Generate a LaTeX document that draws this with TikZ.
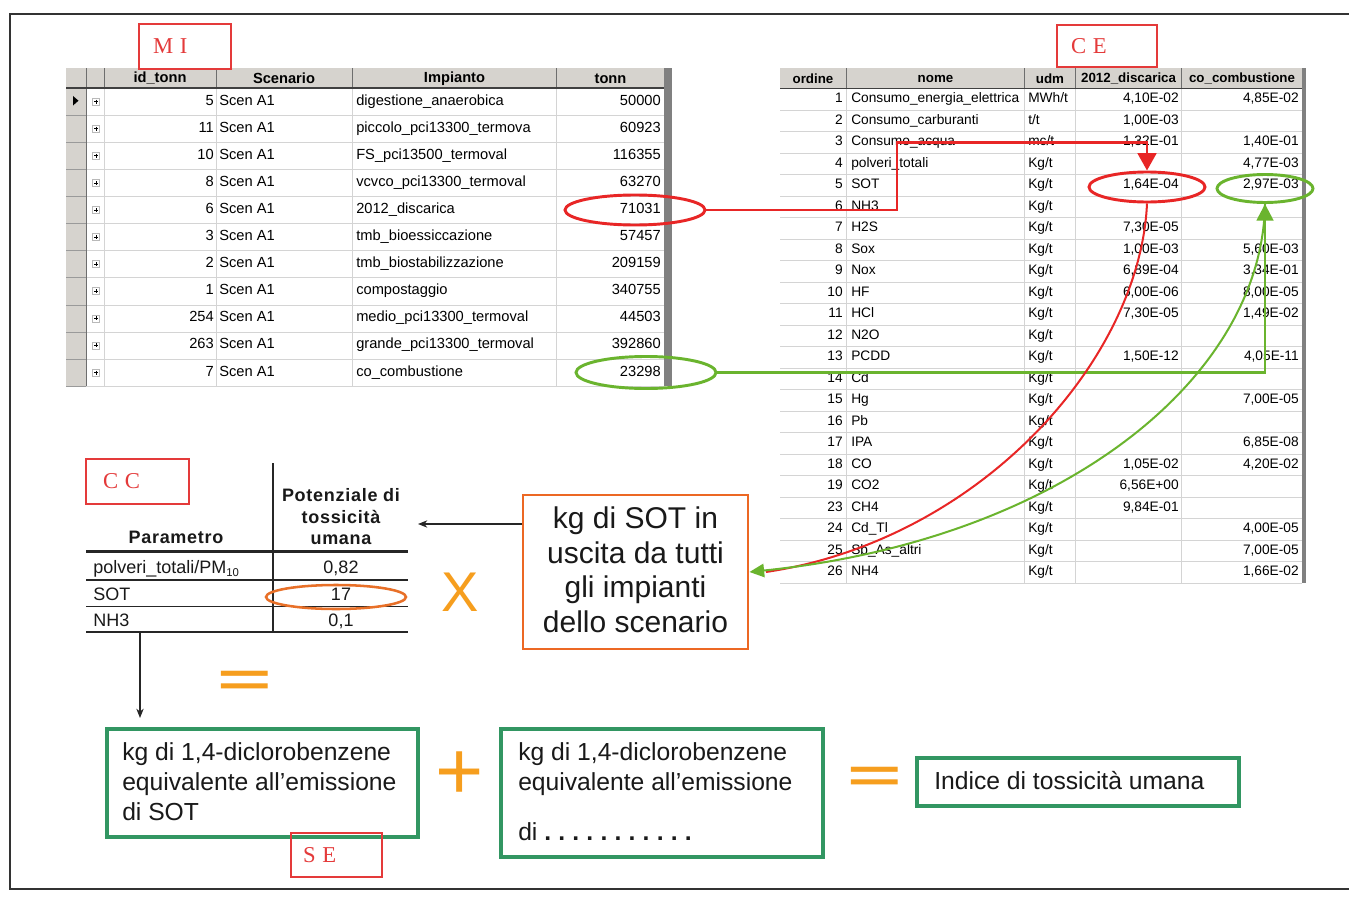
\documentclass[tikz,border=0pt]{standalone}
\usepackage{fontspec}
\setmainfont{Liberation Sans}
\newfontfamily\lblfont{Liberation Serif}
\newfontfamily\hdrfont[LetterSpace=4]{Liberation Sans}
\usetikzlibrary{arrows.meta,shapes.geometric}

\definecolor{hdrgray}{RGB}{214,211,206}
\definecolor{gridgray}{RGB}{212,212,212}
\definecolor{sepgray}{RGB}{110,110,110}
\definecolor{bargray}{RGB}{128,128,128}
\definecolor{lblred}{RGB}{228,58,58}
\definecolor{arrred}{RGB}{232,38,38}
\definecolor{arrgreen}{RGB}{106,180,46}
\definecolor{boxgreen}{RGB}{50,150,98}
\definecolor{boxorange}{RGB}{236,104,36}
\definecolor{opamber}{RGB}{246,158,30}
\definecolor{ellorange}{RGB}{232,112,40}
\definecolor{txt}{RGB}{25,25,25}

\newcommand\LTf{\fontsize{11}{13}\selectfont}
\newcommand\LHf{\fontsize{11}{13}\selectfont\bfseries}
\newcommand\RTf{\fontsize{10.3}{12}\selectfont}
\newcommand\RHf{\fontsize{10}{12}\selectfont\bfseries}
\newcommand\BXf{\fontsize{22.5}{25}\selectfont}
\newcommand\GBf{\fontsize{18.5}{22}\selectfont}
\newcommand\CTf{\fontsize{13.5}{15}\selectfont}
\newcommand\CHf{\hdrfont\fontsize{13.5}{15}\selectfont\bfseries}
\newcommand\LBf{\lblfont\fontsize{17}{18}\selectfont}
\newcommand\dotdot{\textbf{.}\kern5.4pt}

% left table row: #1 index, #2 id, #3 impianto, #4 tonn
\newcommand\lrow[4]{%
  \pgfmathsetmacro\yc{88+(#1-0.5)*27.1}
  \node[lcell, anchor=mid east] (l#1id) at (214,\yc) {#2};
  \node[lcell, anchor=mid west] (l#1sc) at (219,\yc) {Scen A1};
  \node[lcell, anchor=mid west] (l#1im) at (356,\yc) {#3};
  \node[lcell, anchor=mid east] (l#1tn) at (661,\yc) {#4};
  \draw[gray!55] (92.5,\yc-3.5) rectangle (99.5,\yc+3.5);
  \draw[black, line width=0.5pt] (94,\yc) -- (98,\yc) (96,\yc-2) -- (96,\yc+2);
}
% right table row: #1 index, #2 ordine, #3 nome, #4 udm, #5 discarica, #6 combustione
\newcommand\rrow[6]{%
  \pgfmathsetmacro\yc{88.5+(#1-0.5)*21.5}
  \node[rcell, anchor=mid east] (r#1o) at (843,\yc) {#2};
  \node[rcell, anchor=mid west] (r#1n) at (851,\yc) {#3};
  \node[rcell, anchor=mid west] (r#1u) at (1028,\yc) {#4};
  \node[rcell, anchor=mid east] (r#1a) at (1179,\yc) {#5};
  \node[rcell, anchor=mid east] (r#1b) at (1299,\yc) {#6};
}

\begin{document}
\begin{tikzpicture}[x=0.75pt,y=-0.75pt,
  lcell/.style={inner sep=0pt, font=\LTf, text=black},
  rcell/.style={inner sep=0pt, font=\RTf, text=black},
  lhdr/.style={inner sep=0pt, font=\LHf},
  rhdr/.style={inner sep=0pt, font=\RHf},
  lblbox/.style={draw=lblred, line width=0.8pt, inner ysep=0pt, align=left, font=\LBf, text=lblred},
  ellbox/.style={ellipse, inner sep=0pt},
  redln/.style={draw=arrred, line width=2pt},
  grnln/.style={draw=arrgreen, line width=2pt},
  blkarr/.style={draw=black!85, line width=0.8pt, -{Stealth[length=7pt,width=5.5pt]}},
  gbox/.style={draw=boxgreen, line width=2.3pt, fill=white, inner sep=0pt},
  gtxt/.style={inner sep=0pt, font=\GBf, text=txt, anchor=base west},
  btxt/.style={inner sep=0pt, font=\BXf, text=txt, anchor=base},
  ctxt/.style={inner sep=0pt, font=\CTf, text=txt, anchor=base},
  chdr/.style={inner sep=0pt, font=\CHf, text=txt, anchor=base},
  opsym/.style={inner sep=0pt, text=opamber}
]
\useasboundingbox (0,0) rectangle (1349,917);
\fill[white] (0,0) rectangle (1349,917);

% outer frame
\draw[line width=0.8pt, black!80] (1349,14) -- (10,14) -- (10,889) -- (1349,889);

% ================= left table (MI) =================
\fill[hdrgray] (66,68.5) rectangle (664,88);
\fill[hdrgray] (66,88) rectangle (86,386);
\fill[bargray] (664,68.5) rectangle (672,386);
\foreach \k in {1,...,11} {
  \pgfmathsetmacro\yy{88+\k*27.1}
  \draw[gridgray] (86,\yy) -- (664,\yy);
  \draw[sepgray!70] (66,\yy) -- (86,\yy);
}
\foreach \xx in {104.3,216,352.7,556.7} {
  \draw[gridgray] (\xx,88) -- (\xx,386);
  \draw[sepgray] (\xx,68.5) -- (\xx,88);
}
\draw[sepgray] (86,68.5) -- (86,386);
\draw[black!75, line width=1.2pt] (66,88) -- (664,88);
\fill[black] (73,96) -- (73,105.5) -- (78.5,100.7) -- cycle;

\node[lhdr] (lh1) at (160,78.5) {id\_tonn};
\node[lhdr] (lh2) at (284,78.5) {Scenario};
\node[lhdr] (lh3) at (454.5,78.5) {Impianto};
\node[lhdr] (lh4) at (610.5,78.5) {tonn};

\lrow{1}{5}{digestione\_anaerobica}{50000}
\lrow{2}{11}{piccolo\_pci13300\_termova}{60923}
\lrow{3}{10}{FS\_pci13500\_termoval}{116355}
\lrow{4}{8}{vcvco\_pci13300\_termoval}{63270}
\lrow{5}{6}{2012\_discarica}{71031}
\lrow{6}{3}{tmb\_bioessiccazione}{57457}
\lrow{7}{2}{tmb\_biostabilizzazione}{209159}
\lrow{8}{1}{compostaggio}{340755}
\lrow{9}{254}{medio\_pci13300\_termoval}{44503}
\lrow{10}{263}{grande\_pci13300\_termoval}{392860}
\lrow{11}{7}{co\_combustione}{23298}

% ================= right table (CE) =================
\fill[hdrgray] (780,68.5) rectangle (1302,88.5);
\fill[bargray] (1302,68.5) rectangle (1306,583);
\foreach \k in {1,...,23} {
  \pgfmathsetmacro\yy{88.5+\k*21.5}
  \draw[gridgray] (780,\yy) -- (1302,\yy);
}
\foreach \xx in {846.7,1024.3,1075.5,1181.7} {
  \draw[gridgray] (\xx,88.5) -- (\xx,583);
  \draw[sepgray] (\xx,68.5) -- (\xx,88.5);
}
\draw[black!75, line width=1.2pt] (780,88.5) -- (1302,88.5);

\node[rhdr] (rh1) at (813,78.5) {ordine};
\node[rhdr] (rh2) at (935.5,78.5) {nome};
\node[rhdr] (rh3) at (1050,78.5) {udm};
\node[rhdr] (rh4) at (1128.6,78.5) {2012\_discarica};
\node[rhdr] (rh5) at (1242,78.5) {co\_combustione};

\rrow{1}{1}{Consumo\_energia\_elettrica}{MWh/t}{4,10E-02}{4,85E-02}
\rrow{2}{2}{Consumo\_carburanti}{t/t}{1,00E-03}{}
\rrow{3}{3}{Consumo\_acqua}{mc/t}{1,32E-01}{1,40E-01}
\rrow{4}{4}{polveri\_totali}{Kg/t}{}{4,77E-03}
\rrow{5}{5}{SOT}{Kg/t}{1,64E-04}{2,97E-03}
\rrow{6}{6}{NH3}{Kg/t}{}{}
\rrow{7}{7}{H2S}{Kg/t}{7,30E-05}{}
\rrow{8}{8}{Sox}{Kg/t}{1,00E-03}{5,60E-03}
\rrow{9}{9}{Nox}{Kg/t}{6,89E-04}{3,34E-01}
\rrow{10}{10}{HF}{Kg/t}{6,00E-06}{8,00E-05}
\rrow{11}{11}{HCl}{Kg/t}{7,30E-05}{1,49E-02}
\rrow{12}{12}{N2O}{Kg/t}{}{}
\rrow{13}{13}{PCDD}{Kg/t}{1,50E-12}{4,05E-11}
\rrow{14}{14}{Cd}{Kg/t}{}{}
\rrow{15}{15}{Hg}{Kg/t}{}{7,00E-05}
\rrow{16}{16}{Pb}{Kg/t}{}{}
\rrow{17}{17}{IPA}{Kg/t}{}{6,85E-08}
\rrow{18}{18}{CO}{Kg/t}{1,05E-02}{4,20E-02}
\rrow{19}{19}{CO2}{Kg/t}{6,56E+00}{}
\rrow{20}{23}{CH4}{Kg/t}{9,84E-01}{}
\rrow{21}{24}{Cd\_Tl}{Kg/t}{}{4,00E-05}
\rrow{22}{25}{Sb\_As\_altri}{Kg/t}{}{7,00E-05}
\rrow{23}{26}{NH4}{Kg/t}{}{1,66E-02}

% ================= labels =================
\node[lblbox, minimum width=69pt, minimum height=33.75pt, text width=48pt, inner xsep=10.5pt] (MI) at (185,46.5) {M\hspace{5pt}I};
\node[lblbox, minimum width=75pt, minimum height=31.5pt, text width=54pt, inner xsep=10.5pt] (CE) at (1107,46) {C\hspace{5pt}E};
\node[lblbox, minimum width=77.25pt, minimum height=33.75pt, text width=51.75pt, inner xsep=12.75pt] (CC) at (137.5,481.5) {C\hspace{5pt}C};

% ================= CC table =================
\draw[black!85, line width=0.9pt] (273,463) -- (273,632);
\draw[black!85, line width=1.8pt] (86,551.5) -- (408,551.5);
\draw[black!85, line width=0.9pt] (86,580) -- (408,580);
\draw[black!85, line width=0.9pt] (86,606.5) -- (408,606.5);
\draw[black!85, line width=0.9pt] (86,632) -- (408,632);
\node[chdr] (ch1) at (176,543.5) {Parametro};
\node[chdr] (ch2) at (341,501.5) {Potenziale di};
\node[chdr] (ch3) at (341,523) {tossicità};
\node[chdr] (ch4) at (341,544) {umana};
\node[ctxt, anchor=base west] (cr1a) at (93,573) {polveri\_totali/PM\raisebox{-0.22em}{\fontsize{8.5}{9}\selectfont 10}};
\node[ctxt] (cr1b) at (341,573) {0,82};
\node[ctxt, anchor=base west] (cr2a) at (93,600.5) {SOT};
\node[ctxt] (cr2b) at (341,600.5) {17};
\node[ctxt, anchor=base west] (cr3a) at (93,626.5) {NH3};
\node[ctxt] (cr3b) at (341,626.5) {0,1};

% ================= ellipses =================
\node[ellbox, draw=arrred, line width=2.2pt, minimum width=105pt, minimum height=22.5pt] (eA) at (635,210) {};
\node[ellbox, draw=arrred, line width=2.2pt, minimum width=87pt, minimum height=22.5pt] (eB) at (1147,187) {};
\node[ellbox, draw=arrgreen, line width=2.2pt, minimum width=105pt, minimum height=24pt] (eG) at (646,372.5) {};
\node[ellbox, draw=arrgreen, line width=2.2pt, minimum width=72pt, minimum height=21pt] (eH) at (1265,188.5) {};
\node[ellbox, draw=ellorange, line width=1.9pt, minimum width=105pt, minimum height=18pt] (eO) at (336,597) {};

% ================= orange box =================
\node[draw=boxorange, line width=2.2pt, fill=white, minimum width=168.75pt, minimum height=115.5pt, inner sep=0pt] (kgsot) at (635.5,572) {};
\node[btxt] (k1) at (635.5,528.5) {kg di SOT in};
\node[btxt] (k2) at (635.5,563) {uscita da tutti};
\node[btxt] (k3) at (635.5,597.5) {gli impianti};
\node[btxt] (k4) at (635.5,632) {dello scenario};

% ================= connectors =================
\coordinate (rA) at (897,210);
\coordinate (rB) at (897,142.5);
\coordinate (rC) at (1147,142.5);
\draw[redln, -{Triangle[length=13pt,width=14pt]}] (eA.east) -- (rA) -- (rB) -- (rC) -- (eB.north);
\coordinate (gA) at (1265,372.5);
\draw[grnln, -{Triangle[length=12.5pt,width=12.5pt]}] (eG.east) -- (gA) -- (eH.south);
\coordinate (rEnd) at (766,572);
\draw[draw=arrred, line width=1.5pt] (eB.south) .. controls (1140,360) and (980,540) .. (rEnd);
\draw[draw=arrgreen, line width=1.5pt, -{Triangle[length=11pt,width=10pt]}] (eH.south) .. controls (1262,380) and (1060,540) .. (kgsot.east);

\coordinate (ccarr) at (418,524);
\draw[blkarr] (kgsot.west |- ccarr) -- (ccarr);
\coordinate (dtop) at (140,633);
\coordinate (dbot) at (140,718);
\draw[blkarr] (dtop) -- (dbot);

% ================= operators =================
\node[opsym, font=\fontsize{42}{42}\selectfont] (times) at (460,592) {X};
\node[opsym, font=\fontsize{35}{35}\selectfont\bfseries] (eq1) at (245,683) {\scalebox{2.0}[1]{=}};
\node[opsym, font=\fontsize{62}{62}\selectfont] (plus) at (460,776) {+};
\node[opsym, font=\fontsize{35}{35}\selectfont\bfseries] (eq2) at (875,779) {\scalebox{2.0}[1]{=}};

% ================= bottom boxes =================
\node[gbox, minimum width=233.25pt, minimum height=81pt] (box1) at (262.5,783) {};
\node[gtxt] (b1a) at (122,760.7) {kg di 1,4-diclorobenzene};
\node[gtxt] (b1b) at (122,790.7) {equivalente all’emissione};
\node[gtxt] (b1c) at (122,820.7) {di SOT};

\node[gbox, minimum width=241.5pt, minimum height=96pt] (box2) at (662,793) {};
\node[gtxt] (b2a) at (518,760.7) {kg di 1,4-diclorobenzene};
\node[gtxt] (b2b) at (518,790.7) {equivalente all’emissione};
\node[gtxt] (b2c) at (518,840.7) {di \dotdot\dotdot\dotdot\dotdot\dotdot\dotdot\dotdot\dotdot\dotdot\dotdot\textbf{.}};

\node[gbox, minimum width=241.5pt, minimum height=36pt] (box3) at (1078,782) {};
\node[gtxt] (b3a) at (934,789) {Indice di tossicità umana};

% SE label, over the edge of box1 (no fill, so the green edge shows)
\node[lblbox, minimum width=68.25pt, minimum height=33pt, text width=50.25pt, inner xsep=9pt] (SE) at (336.5,855) {S\hspace{5pt}E};
\end{tikzpicture}
\end{document}
